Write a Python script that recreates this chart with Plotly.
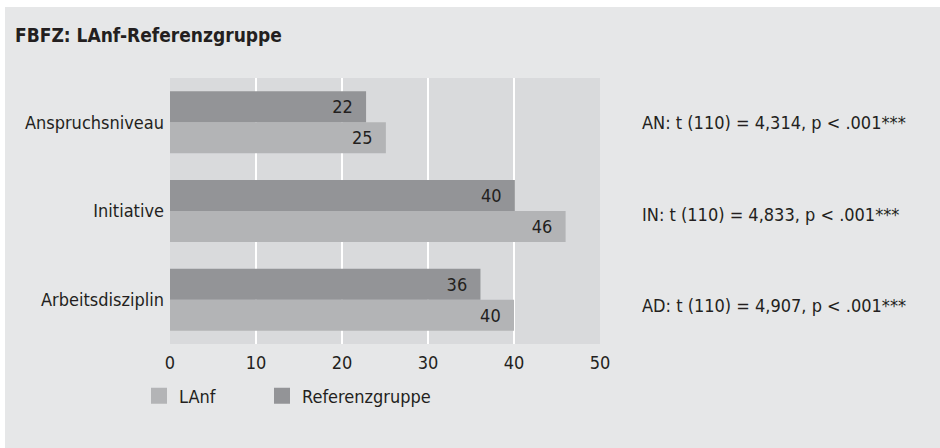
import plotly.graph_objects as go

categories = ["Arbeitsdisziplin", "Initiative", "Anspruchsniveau"]
lanf_values = [40, 46, 25.1]
lanf_labels = ["40", "46", "25"]
ref_values = [36.1, 40.1, 22.8]
ref_labels = ["36", "40", "22"]
stats_text = [
    "AN: t (110) = 4,314, p < .001***",
    "IN: t (110) = 4,833, p < .001***",
    "AD: t (110) = 4,907, p < .001***",
]
stats_cat = ["Anspruchsniveau", "Initiative", "Arbeitsdisziplin"]
x_ticks = [0, 10, 20, 30, 40, 50]

FONT = "DejaVu Sans Condensed, Liberation Sans Narrow, sans-serif"
TXT = "#231f20"
LIGHT = "#b3b4b6"
DARK = "#939497"
W, H = 940, 448
ML, MR, MT, MB = 170, 340, 78, 104
PW, PH = W - ML - MR, H - MT - MB
FS = 18

fig = go.Figure()
for name, vals, labels, col in [("LAnf", lanf_values, lanf_labels, LIGHT),
                                ("Referenzgruppe", ref_values, ref_labels, DARK)]:
    fig.add_trace(go.Bar(
        y=categories, x=vals, orientation="h", name=name, legendgroup=name,
        showlegend=False,
        marker=dict(color=col, line=dict(width=0)),
        text=labels, texttemplate="%{text}\u00a0\u00a0",
        textposition="inside", insidetextanchor="end",
        textfont=dict(color=TXT, size=FS, family=FONT), hoverinfo="skip",
    ))
    # legend entry with a 16px square swatch
    fig.add_trace(go.Scatter(
        x=[None], y=[None], mode="markers", name=name, legendgroup=name,
        marker=dict(symbol="square", size=16, color=col), hoverinfo="skip",
    ))
# invisible spacer entry so the last real legend label is not clipped
fig.add_trace(go.Scatter(
    x=[None], y=[None], mode="markers", name="\u00a0",
    marker=dict(symbol="square", size=16, color="rgba(0,0,0,0)"), hoverinfo="skip",
))

shifts = [0, -3, -6]
for txt, cat, sh in zip(stats_text, stats_cat, shifts):
    fig.add_annotation(
        x=0, xref="paper", xshift=470, xanchor="left",
        y=cat, yref="y", yshift=sh, text=txt, showarrow=False,
        font=dict(size=FS, family=FONT, color=TXT),
    )

fig.add_annotation(
    x=(13 - ML) / PW, xref="paper", xanchor="left",
    y=(MT + PH - 35) / PH, yref="paper", yanchor="middle",
    text="<b>FBFZ: LAnf-Referenzgruppe</b>", showarrow=False,
    font=dict(size=19, family=FONT, color=TXT),
)

# white strips at left/top edge
fig.add_shape(type="rect", xref="paper", yref="paper",
              x0=-ML / PW, x1=(5 - ML) / PW, y0=-MB / PH, y1=(MT + PH) / PH,
              fillcolor="white", line=dict(width=0), layer="above")
fig.add_shape(type="rect", xref="paper", yref="paper",
              x0=-ML / PW, x1=(W - ML) / PW, y0=(PH + MT - 7) / PH, y1=(MT + PH) / PH,
              fillcolor="white", line=dict(width=0), layer="above")

fig.update_layout(
    width=W, height=H,
    margin=dict(l=ML, r=MR, t=MT, b=MB, autoexpand=False),
    paper_bgcolor="#e6e7e8",
    plot_bgcolor="#d9dadc",
    barmode="group", bargap=0.3, bargroupgap=0,
    font=dict(family=FONT, color=TXT, size=FS),
    showlegend=True,
    legend=dict(orientation="h", x=(139 - ML) / PW, xanchor="left",
                y=-(396 - MT - PH) / PH, yanchor="middle",
                font=dict(size=FS, family=FONT, color=TXT),
                bgcolor="rgba(0,0,0,0)", entrywidth=78, entrywidthmode="pixels",
                itemclick=False, itemdoubleclick=False),
    xaxis=dict(range=[0, 50], tickvals=x_ticks, showgrid=True, gridcolor="white",
               gridwidth=2, zeroline=False, showline=False, ticks="",
               ticklabelstandoff=6,
               tickfont=dict(size=FS, family=FONT, color=TXT), fixedrange=True),
    yaxis=dict(showgrid=False, ticks="", showline=False, ticklabelstandoff=5,
               tickfont=dict(size=FS, family=FONT, color=TXT), fixedrange=True),
)

fig.write_html("out.html", config={"displayModeBar": False},
               post_script="document.body.style.margin='0';document.body.style.padding='0';")
